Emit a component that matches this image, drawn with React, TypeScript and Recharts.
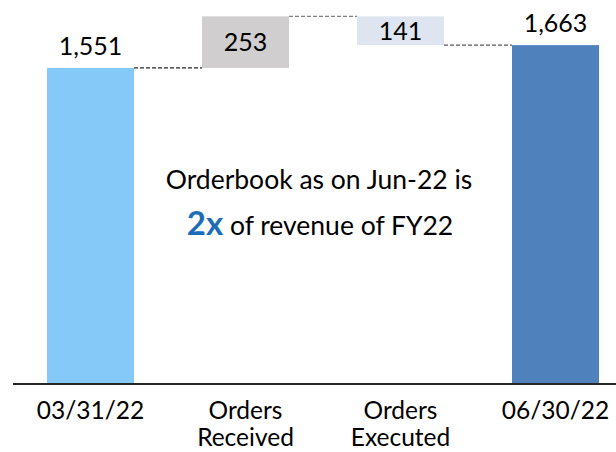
import { BarChart, Bar, XAxis, YAxis, Cell, LabelList } from 'recharts';

const categories = ['03/31/22', 'Orders Received', 'Orders Executed', '06/30/22'];
const changes = [1551, 253, -141, 1663];
const kinds = ['total', 'step', 'step', 'total'];
const barColors = ['#85C9F9', '#D0CECE', '#DEE5F0', '#4F81BD'];
const connectorColors = ['#262626', '#7F7F7F', '#595959'];

const FONT = 'Lato, "Open Sans", sans-serif';
const STEP = 155; // category band width in px (620 / 4)

// build floating-bar rows from the running total
let running = 0;
const rows = categories.map((name, i) => {
  const c = changes[i];
  let base = 0;
  let size = c;
  if (kinds[i] === 'total') {
    running = c;
  } else if (c >= 0) {
    base = running;
    running += c;
  } else {
    running += c;
    base = running;
    size = -c;
  }
  return { name, base, size, label: Math.abs(c), down: c < 0 };
});

function WaterfallBar(props: any) {
  const { x, y, width, height, fill, index, payload } = props;
  const lineY = payload.down ? y + height : y;
  return (
    <g>
      <rect x={x} y={y} width={width} height={height} fill={fill} />
      {index < rows.length - 1 && (
        <line
          x1={x + width}
          x2={x + STEP}
          y1={lineY}
          y2={lineY}
          stroke={connectorColors[index]}
          strokeWidth={1.3}
          strokeDasharray="4 2"
        />
      )}
    </g>
  );
}

function ValueLabel(props: any) {
  const { x, y, width, height, index, value } = props;
  const cx = x + width / 2;
  const inside = kinds[index] !== 'total';
  return (
    <text
      x={cx}
      y={inside ? y + height / 2 + 9 : y - 13}
      textAnchor="middle"
      fill="#000"
      fontSize={25}
      fontFamily={FONT}
    >
      {Number(value).toLocaleString('en-US')}
    </text>
  );
}

function CategoryTick(props: any) {
  const { x, y, payload } = props;
  const parts = String(payload.value).split(' ');
  return (
    <text x={x} y={y} textAnchor="middle" fill="#000" fontSize={24.5} fontFamily={FONT}>
      {parts.map((p, i) => (
        <tspan key={i} x={x} dy={i === 0 ? 27 : 27}>
          {p}
        </tspan>
      ))}
    </text>
  );
}

export default function App() {
  return (
    <div
      style={{
        position: 'absolute',
        left: 0,
        top: 0,
        width: 616,
        height: 452,
        overflow: 'hidden',
        background: '#fff',
      }}
    >
      <BarChart
        width={640}
        height={452}
        data={rows}
        barSize={87}
        margin={{ top: 7, right: 7, left: 13, bottom: 0 }}
      >
        <XAxis
          dataKey="name"
          height={68}
          interval={0}
          axisLine={{ stroke: '#262626', strokeWidth: 2 }}
          tickLine={false}
          tick={<CategoryTick />}
        />
        <YAxis hide domain={[0, 1850]} />
        <Bar dataKey="base" stackId="w" fill="transparent" isAnimationActive={false} />
        <Bar dataKey="size" stackId="w" shape={<WaterfallBar />} isAnimationActive={false}>
          {rows.map((r, i) => (
            <Cell key={r.name} fill={barColors[i]} />
          ))}
          <LabelList dataKey="label" content={<ValueLabel />} />
        </Bar>
      </BarChart>
      <svg
        width={616}
        height={452}
        style={{ position: 'absolute', left: 0, top: 0, pointerEvents: 'none' }}
      >
        <text x={319} y={189} textAnchor="middle" fontSize={26.5} fontFamily={FONT} fill="#000">
          Orderbook as on Jun-22 is
        </text>
        <text x={320} y={235} textAnchor="middle" fontFamily={FONT} fill="#000">
          <tspan fontSize={33} fontWeight={700} fill="#1B6DBA">
            2x
          </tspan>
          <tspan fontSize={26.5}> of revenue of FY22</tspan>
        </text>
      </svg>
    </div>
  );
}
